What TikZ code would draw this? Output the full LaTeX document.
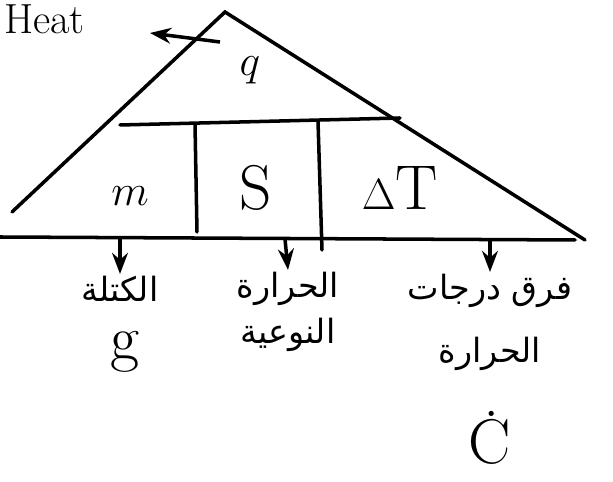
\documentclass[tikz,border=0pt]{standalone}
\usepackage{fontspec}
\usepackage{tikz}
\usetikzlibrary{arrows.meta,positioning}
\newfontfamily\arabicfont[Script=Arabic]{DejaVu Sans}
\TeXXeTstate=1

\begin{document}
\begin{tikzpicture}[>=Stealth, x=0.02cm, y=-0.02cm,
  every node/.style = {font=\fontsize{36}{40}\selectfont, inner sep=1pt},
  stroke/.style = {line width=2pt, line cap=round},
  arrow/.style  = {->, line width=2pt},
  lbl/.style    = {font=\arabicfont\fontsize{19}{22}\selectfont,
                   align=center, anchor=north},
]
  \useasboundingbox (0,0) rectangle (613,482);

  % triangle and its dividing lines
  \coordinate (apex) at (225,12);
  \coordinate (left) at (12,212);
  \coordinate (right) at (585,240);
  \coordinate (bl) at (0,237);
  \coordinate (br) at (575,240);
  \coordinate (ql) at (120,125);
  \coordinate (qr) at (400,118);
  \draw[stroke] (left) -- (apex) -- (right);
  \draw[stroke] (bl) -- (br);
  \draw[stroke] (ql) -- (qr);
  \draw[stroke] (195,124) -- (197,232);
  \draw[stroke] (318,121) -- (322,250);

  \node (q)  at (250,70)  {$q$};
  \node (m)  at (130,196) {$m$};
  \node (S)  at (256,188) {S};
  \node (dT) at (400,188) {$\Delta$T};

  \node[anchor=base west, font=\fontsize{24}{28}\selectfont] (heat) at (2,34) {Heat};
  \coordinate (ha) at (220,42);
  \coordinate (hb) at (150,33);
  \draw[arrow] (ha) -- (hb);

  % arrows from the base to the labels
  \coordinate (bm) at (120,238);
  \coordinate (bs) at (285,239);
  \coordinate (bt) at (490,239);
  \node[lbl] (lblm) at (120,274) {\beginR الكتلة\endR};
  \node[lbl] (lbls) at (288,270) {\beginR الحرارة\endR\\[4pt]\beginR النوعية\endR};
  \node[lbl] (lbldt) at (490,272) {\beginR فرق درجات\endR\\[14pt]\beginR الحرارة\endR};
  \draw[arrow] (bm) -- (lblm.north);
  \draw[arrow] (bs) -- (lbls.north);
  \draw[arrow] (bt) -- (lbldt.north);

  \node (g) at (125,352) {g};
  \node (c) at (490,438) {\.{C}};
\end{tikzpicture}
\end{document}
